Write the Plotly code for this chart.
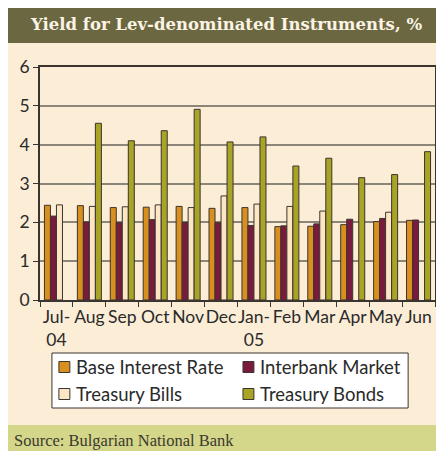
import plotly.graph_objects as go

months = ["Jul-<br>04", "Aug", "Sep", "Oct", "Nov", "Dec", "Jan-<br>05",
          "Feb", "Mar", "Apr", "May", "Jun"]
base_rate = [2.44, 2.43, 2.38, 2.39, 2.41, 2.36, 2.38, 1.89, 1.90, 1.94, 2.02, 2.05]
interbank = [2.16, 2.01, 1.99, 2.07, 2.00, 1.99, 1.92, 1.91, 1.96, 2.08, 2.10, 2.06]
bills = [2.45, 2.41, 2.40, 2.45, 2.38, 2.68, 2.47, 2.41, 2.29, None, 2.26, None]
bonds = [None, 4.55, 4.10, 4.36, 4.91, 4.07, 4.20, 3.45, 3.65, 3.15, 3.23, 3.82]
series = ["Base Interest Rate", "Interbank Market", "Treasury Bills", "Treasury Bonds"]
colors = ["#D98F1E", "#7A1A3C", "#FDE6C3", "#A9A326"]

# page body has an 8px margin, so the figure sits at (8, 8)
OFF = 8
W, H = 436, 443
ML, MR, MT, MB = 32, 7, 59, 151
PW, PH = W - ML - MR, H - MT - MB

def px(x):
    return (x - OFF - ML) / PW

def py(y):
    return (H - MB - (y - OFF)) / PH

edge = "#3a3530"
fig = go.Figure()
for name, vals, col in zip(series, [base_rate, interbank, bills, bonds], colors):
    fig.add_trace(go.Bar(x=months, y=vals, name=name, showlegend=False,
                         marker=dict(color=col, line=dict(color=edge, width=1))))

# background panels: cream body, title bar, source bar
panels = [(43, 425, "#FCEDD7"), (0, 43, "#6A6741"), (425, 460, "#D4D68A")]
for top, bot, col in panels:
    fig.add_shape(type="rect", xref="paper", yref="paper", layer="below",
                  x0=px(0), x1=px(450), y0=py(bot), y1=py(top),
                  fillcolor=col, line_width=0)

fig.add_annotation(text="<b>Yield for Lev-denominated Instruments, %</b>",
                   xref="paper", yref="paper", x=px(227), y=py(25),
                   xanchor="center", yanchor="middle", showarrow=False,
                   font=dict(family="DejaVu Serif", size=16.5, color="#FBF3E4"))
fig.add_annotation(text="Source: Bulgarian National Bank",
                   xref="paper", yref="paper", x=px(12), y=py(440),
                   xanchor="left", yanchor="middle", showarrow=False,
                   font=dict(family="Liberation Serif", size=16.5, color="#3b3a2e"))

# legend box drawn by hand (two columns)
fig.add_shape(type="rect", xref="paper", yref="paper",
              x0=px(52), x1=px(410), y0=py(408), y1=py(353),
              fillcolor="white", line=dict(color=edge, width=1))
spots = [(59, 367), (244, 367), (59, 394), (244, 394)]
for (lx, ly), name, col in zip(spots, series, colors):
    fig.add_shape(type="rect", xref="paper", yref="paper",
                  x0=px(lx), x1=px(lx + 11), y0=py(ly + 5.5), y1=py(ly - 5.5),
                  fillcolor=col, line=dict(color=edge, width=1))
    fig.add_annotation(text=name, xref="paper", yref="paper",
                       x=px(lx + 15), y=py(ly), xanchor="left", yanchor="middle",
                       showarrow=False,
                       font=dict(family="Lato", size=18.5, color="#2a2a2a"))

fig.update_layout(
    width=W, height=H,
    margin=dict(l=ML, r=MR, t=MT, b=MB),
    paper_bgcolor="white", plot_bgcolor="#FCEDD7",
    barmode="group", bargap=0.27, bargroupgap=0,
    font=dict(family="Lato", size=17.5, color="#2a2a2a"),
    showlegend=False,
)
fig.update_xaxes(showline=True, linecolor=edge, linewidth=1.5, mirror=True,
                 ticks="outside", ticklen=5, tickcolor=edge, tickson="boundaries",
                 showgrid=False, tickangle=0)
fig.update_yaxes(range=[0, 6], dtick=1, showline=True, linecolor=edge, linewidth=1.5,
                 mirror=True, ticks="outside", ticklen=5, tickcolor=edge,
                 showgrid=True, gridcolor="#8c857a", gridwidth=1.5, zeroline=False)

fig.write_html("out.html")
